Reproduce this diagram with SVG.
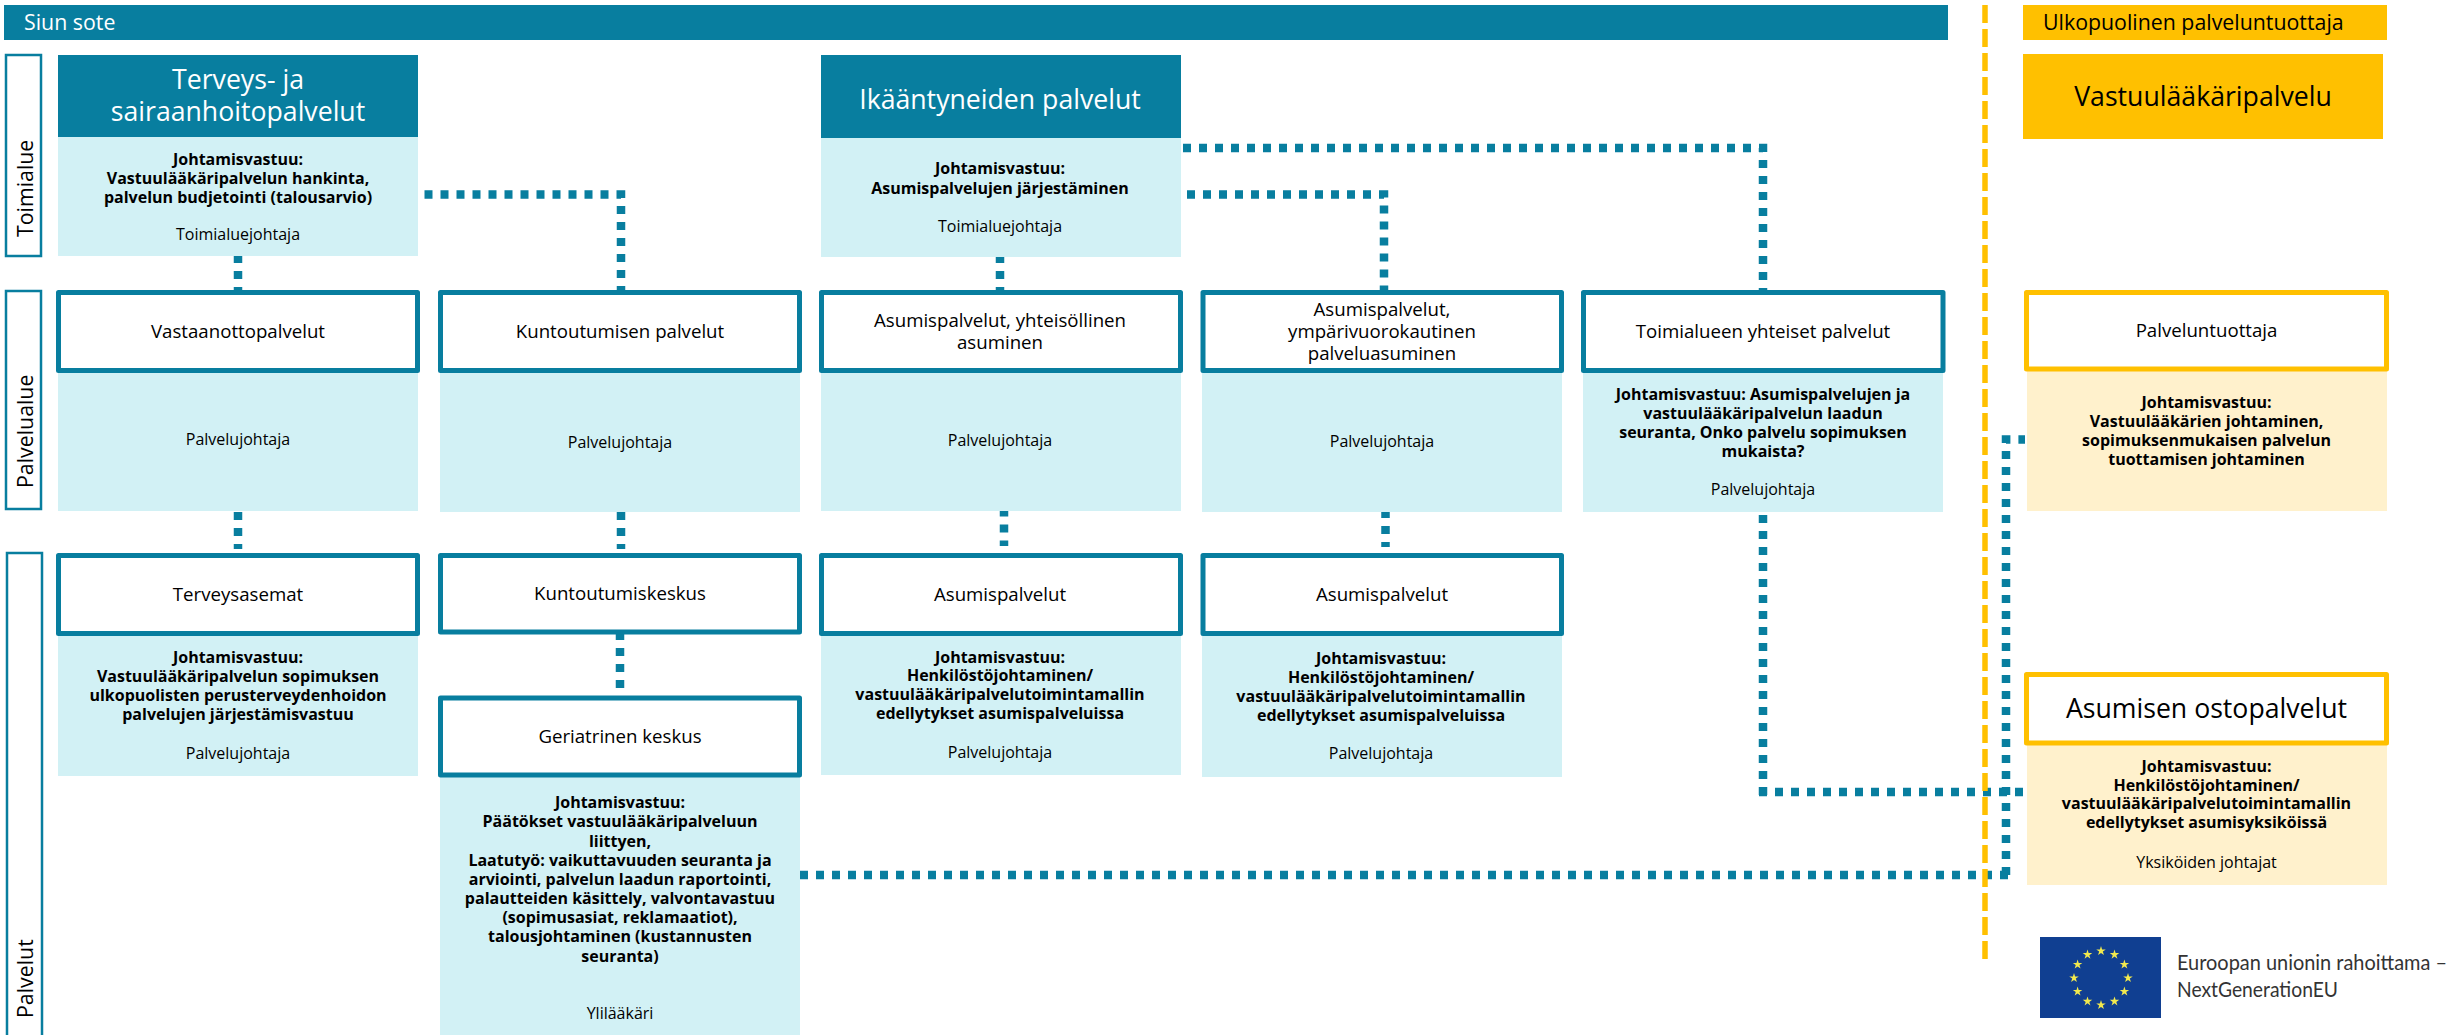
<svg xmlns="http://www.w3.org/2000/svg" width="2463" height="1035" viewBox="0 0 2463 1035">
<style>
text{font-family:"Open Sans","Noto Sans","Liberation Sans",sans-serif;fill:#000;text-anchor:middle}
.head{fill:#087E9F}.body{fill:#D2F1F5}.ybody{fill:#FFF1CC}.yfill{fill:#FFC000}
.box{fill:#fff;stroke:#087E9F;stroke-width:5;stroke-linejoin:round}
.ybox{fill:#fff;stroke:#FFC000;stroke-width:5;stroke-linejoin:round}
.side{fill:#fff;stroke:#087E9F;stroke-width:2.500}
.side-t{font-size:21.330px;text-anchor:start}
.t{font-size:18.670px}.h{font-size:26.670px}.b{font-size:16px;font-weight:700}.r{font-size:16px}
.w{fill:#fff}.s{text-anchor:start}
.dot{fill:none;stroke:#087E9F;stroke-width:8.500;stroke-dasharray:8 8}
.dash{fill:none;stroke:#FFC000;stroke-width:5.500;stroke-dasharray:18 6}
.logo{font-family:Lato,"Open Sans",sans-serif;font-size:21px;fill:#333;text-anchor:start}
</style>
<defs>
<polygon id="star" fill="#F2E94E" points="0,-5 1.12,-1.55 4.76,-1.55 1.82,0.59 2.94,4.05 0,1.91 -2.94,4.05 -1.82,0.59 -4.76,-1.55 -1.12,-1.55"/>
</defs>

<g id="bar-siun-sote"><rect class="head" x="4" y="5" width="1944" height="35"/><text class="w s" x="24" y="30" font-size="21.330">Siun sote</text></g>
<g id="bar-ulkopuolinen"><rect class="yfill" x="2023" y="5" width="364" height="35"/><text class="s" x="2043" y="30" font-size="21.330">Ulkopuolinen palveluntuottaja</text></g>

<g id="label-toimialue"><rect class="side" x="6" y="55" width="35" height="201"/><text class="side-t" transform="translate(33 237) rotate(-90) scale(1 1.05)">Toimialue</text></g>
<g id="label-palvelualue"><rect class="side" x="6" y="291" width="35" height="218"/><text class="side-t" transform="translate(33 488) rotate(-90) scale(1 1.05)">Palvelualue</text></g>
<g id="label-palvelut"><rect class="side" x="7" y="553" width="35" height="490"/><text class="side-t" transform="translate(33 1018) rotate(-90) scale(1 1.05)">Palvelut</text></g>

<g id="connectors">
<path class="dot" d="M238 255V290"/>
<path class="dot" d="M424.500 194.600H621V290"/>
<path class="dot" d="M238 512V549"/>
<path class="dot" d="M621 512V549"/>
<path class="dot" d="M620 632V688"/>
<path class="dot" d="M1000 255V290"/>
<path class="dot" d="M1004 508.600V546"/>
<path class="dot" d="M1187 194.600H1384V290"/>
<path class="dot" d="M1385.500 510V547"/>
<path class="dot" d="M1183 148H1763V290"/>
<path class="dot" d="M1763 515V795"/>
<path class="dot" d="M1759 792H2025"/>
<path class="dot" d="M800 875H2008"/>
<path class="dot" d="M2006 875V439.400H2025"/>
<path class="dash" d="M1985 5V960"/>
</g>

<g id="node-terveys"><rect class="head" x="58" y="55" width="360" height="82"/><rect class="body" x="58" y="137" width="360" height="119"/>
<text class="h w" x="238" y="89">Terveys- ja</text><text class="h w" x="238" y="120.500">sairaanhoitopalvelut</text>
<text class="b" x="238"><tspan x="238" y="164.500">Johtamisvastuu:</tspan><tspan x="238" y="183.500">Vastuulääkäripalvelun hankinta,</tspan><tspan x="238" y="203">palvelun budjetointi (talousarvio)</tspan></text>
<text class="r" x="238" y="240">Toimialuejohtaja</text></g>

<g id="node-ikaantyneet"><rect class="head" x="821" y="55" width="360" height="83"/><rect class="body" x="821" y="138" width="360" height="119"/>
<text class="h w" x="1000" y="109">Ikääntyneiden palvelut</text>
<text class="b" x="1000"><tspan x="1000" y="174">Johtamisvastuu:</tspan><tspan x="1000" y="194">Asumispalvelujen järjestäminen</tspan></text>
<text class="r" x="1000" y="232">Toimialuejohtaja</text></g>

<g id="node-vastuulaakaripalvelu"><rect class="yfill" x="2023" y="54" width="360" height="85"/><text class="h" x="2203" y="106">Vastuulääkäripalvelu</text></g>

<g id="node-vastaanotto"><rect class="body" x="58" y="372" width="360" height="139"/><rect class="box" x="58.500" y="292.500" width="359" height="78"/>
<text class="t" x="238" y="338">Vastaanottopalvelut</text><text class="r" x="238" y="445">Palvelujohtaja</text></g>

<g id="node-kuntoutuminen"><rect class="body" x="440" y="372" width="360" height="140"/><rect class="box" x="440.500" y="292.500" width="359" height="78"/>
<text class="t" x="620" y="338">Kuntoutumisen palvelut</text><text class="r" x="620" y="447.500">Palvelujohtaja</text></g>

<g id="node-yhteisollinen"><rect class="body" x="821" y="372" width="360" height="139"/><rect class="box" x="821.500" y="292.500" width="359" height="78"/>
<text class="t" x="1000"><tspan x="1000" y="327">Asumispalvelut, yhteisöllinen</tspan><tspan x="1000" y="349">asuminen</tspan></text><text class="r" x="1000" y="446">Palvelujohtaja</text></g>

<g id="node-ymparivuorokautinen"><rect class="body" x="1202" y="372" width="360" height="140"/><rect class="box" x="1203" y="292.500" width="358.500" height="78"/>
<text class="t" x="1382"><tspan x="1382" y="316">Asumispalvelut,</tspan><tspan x="1382" y="338">ympärivuorokautinen</tspan><tspan x="1382" y="360">palveluasuminen</tspan></text><text class="r" x="1382" y="447">Palvelujohtaja</text></g>

<g id="node-yhteiset"><rect class="body" x="1583" y="372" width="360" height="140"/><rect class="box" x="1583.500" y="292.500" width="359.500" height="78"/>
<text class="t" x="1763" y="338">Toimialueen yhteiset palvelut</text>
<text class="b" x="1763"><tspan x="1763" y="399.500">Johtamisvastuu: Asumispalvelujen ja</tspan><tspan x="1763" y="418.500">vastuulääkäripalvelun laadun</tspan><tspan x="1763" y="437.500">seuranta, Onko palvelu sopimuksen</tspan><tspan x="1763" y="456.500">mukaista?</tspan></text>
<text class="r" x="1763" y="495">Palvelujohtaja</text></g>

<g id="node-palveluntuottaja"><rect class="ybody" x="2027" y="371" width="360" height="140"/><rect class="ybox" x="2026.500" y="292.500" width="360" height="76.500"/>
<text class="t" x="2206.500" y="337">Palveluntuottaja</text>
<text class="b" x="2206.500"><tspan x="2206.500" y="408">Johtamisvastuu:</tspan><tspan x="2206.500" y="427">Vastuulääkärien johtaminen,</tspan><tspan x="2206.500" y="446">sopimuksenmukaisen palvelun</tspan><tspan x="2206.500" y="465">tuottamisen johtaminen</tspan></text></g>

<g id="node-terveysasemat"><rect class="body" x="58" y="635" width="360" height="141"/><rect class="box" x="58.500" y="555.500" width="359" height="78"/>
<text class="t" x="238" y="601">Terveysasemat</text>
<text class="b" x="238"><tspan x="238" y="663">Johtamisvastuu:</tspan><tspan x="238" y="682">Vastuulääkäripalvelun sopimuksen</tspan><tspan x="238" y="701">ulkopuolisten perusterveydenhoidon</tspan><tspan x="238" y="720">palvelujen järjestämisvastuu</tspan></text>
<text class="r" x="238" y="759">Palvelujohtaja</text></g>

<g id="node-kuntoutumiskeskus"><rect class="box" x="440.500" y="555.500" width="359" height="76.500"/><text class="t" x="620" y="600">Kuntoutumiskeskus</text></g>

<g id="node-geriatrinen"><rect class="body" x="440" y="777" width="360" height="258"/><rect class="box" x="440.500" y="698" width="359" height="77"/>
<text class="t" x="620" y="743">Geriatrinen keskus</text>
<text class="b" x="620"><tspan x="620" y="808">Johtamisvastuu:</tspan><tspan x="620" y="827">Päätökset vastuulääkäripalveluun</tspan><tspan x="620" y="847">liittyen,</tspan><tspan x="620" y="866">Laatutyö: vaikuttavuuden seuranta ja</tspan><tspan x="620" y="885">arviointi, palvelun laadun raportointi,</tspan><tspan x="620" y="904">palautteiden käsittely, valvontavastuu</tspan><tspan x="620" y="923">(sopimusasiat, reklamaatiot),</tspan><tspan x="620" y="942">talousjohtaminen (kustannusten</tspan><tspan x="620" y="962">seuranta)</tspan></text>
<text class="r" x="620" y="1019">Ylilääkäri</text></g>

<g id="node-asumis-1"><rect class="body" x="821" y="635" width="360" height="140"/><rect class="box" x="821.500" y="555.500" width="359" height="78"/>
<text class="t" x="1000" y="601">Asumispalvelut</text>
<text class="b" x="1000"><tspan x="1000" y="663">Johtamisvastuu:</tspan><tspan x="1000" y="681">Henkilöstöjohtaminen/</tspan><tspan x="1000" y="700">vastuulääkäripalvelutoimintamallin</tspan><tspan x="1000" y="719">edellytykset asumispalveluissa</tspan></text>
<text class="r" x="1000" y="758">Palvelujohtaja</text></g>

<g id="node-asumis-2"><rect class="body" x="1202" y="635" width="360" height="142"/><rect class="box" x="1203" y="555.500" width="358.500" height="78"/>
<text class="t" x="1382" y="601">Asumispalvelut</text>
<text class="b" x="1381"><tspan x="1381" y="664">Johtamisvastuu:</tspan><tspan x="1381" y="683">Henkilöstöjohtaminen/</tspan><tspan x="1381" y="702">vastuulääkäripalvelutoimintamallin</tspan><tspan x="1381" y="721">edellytykset asumispalveluissa</tspan></text>
<text class="r" x="1381" y="759">Palvelujohtaja</text></g>

<g id="node-ostopalvelut"><rect class="ybody" x="2027" y="745" width="360" height="140"/><rect class="ybox" x="2026.500" y="674.500" width="360" height="68.500"/>
<text class="h" x="2206.500" y="718">Asumisen ostopalvelut</text>
<text class="b" x="2206.500"><tspan x="2206.500" y="772">Johtamisvastuu:</tspan><tspan x="2206.500" y="791">Henkilöstöjohtaminen/</tspan><tspan x="2206.500" y="809">vastuulääkäripalvelutoimintamallin</tspan><tspan x="2206.500" y="828">edellytykset asumisyksiköissä</tspan></text>
<text class="r" x="2206.500" y="868">Yksiköiden johtajat</text></g>

<g id="eu-logo"><rect x="2040" y="937" width="121" height="81" fill="#103F91"/>
<use href="#star" x="2101" y="951"/><use href="#star" x="2114.500" y="954.600"/><use href="#star" x="2124.400" y="964.500"/><use href="#star" x="2128" y="978"/><use href="#star" x="2124.400" y="991.500"/><use href="#star" x="2114.500" y="1001.400"/><use href="#star" x="2101" y="1005"/><use href="#star" x="2087.500" y="1001.400"/><use href="#star" x="2077.600" y="991.500"/><use href="#star" x="2074" y="978"/><use href="#star" x="2077.600" y="964.500"/><use href="#star" x="2087.500" y="954.600"/>
<text class="logo" x="2177" y="970" textLength="270" lengthAdjust="spacingAndGlyphs">Euroopan unionin rahoittama –</text><text class="logo" x="2177" y="997" textLength="161" lengthAdjust="spacingAndGlyphs">NextGenerationEU</text></g>
</svg>
